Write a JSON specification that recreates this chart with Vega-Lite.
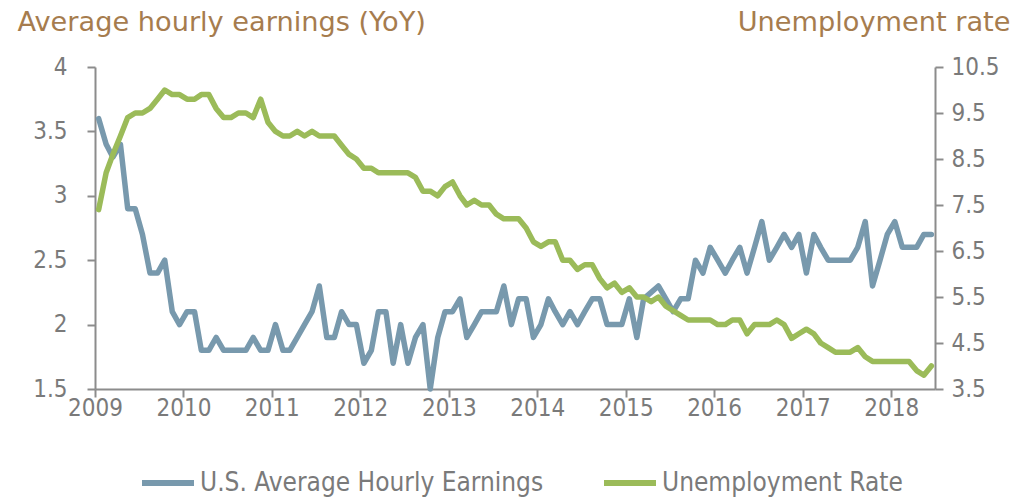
{
  "$schema": "https://vega.github.io/schema/vega-lite/v6.json",
  "width": 840,
  "height": 322,
  "autosize": {"type": "none"},
  "padding": {"left": 95, "top": 67, "right": 92, "bottom": 111},
  "background": "white",
  "config": {"view": {"stroke": null}},
  "data": {"values": [
    {"d":"2009-01-16","ahe":3.6,"ur":7.4},{"d":"2009-02-16","ahe":3.4,"ur":8.2},{"d":"2009-03-16","ahe":3.3,"ur":8.6},{"d":"2009-04-16","ahe":3.4,"ur":9.0},{"d":"2009-05-16","ahe":2.9,"ur":9.4},{"d":"2009-06-16","ahe":2.9,"ur":9.5},{"d":"2009-07-16","ahe":2.7,"ur":9.5},{"d":"2009-08-16","ahe":2.4,"ur":9.6},{"d":"2009-09-16","ahe":2.4,"ur":9.8},{"d":"2009-10-16","ahe":2.5,"ur":10.0},{"d":"2009-11-16","ahe":2.1,"ur":9.9},{"d":"2009-12-16","ahe":2.0,"ur":9.9},
    {"d":"2010-01-16","ahe":2.1,"ur":9.8},{"d":"2010-02-16","ahe":2.1,"ur":9.8},{"d":"2010-03-16","ahe":1.8,"ur":9.9},{"d":"2010-04-16","ahe":1.8,"ur":9.9},{"d":"2010-05-16","ahe":1.9,"ur":9.6},{"d":"2010-06-16","ahe":1.8,"ur":9.4},{"d":"2010-07-16","ahe":1.8,"ur":9.4},{"d":"2010-08-16","ahe":1.8,"ur":9.5},{"d":"2010-09-16","ahe":1.8,"ur":9.5},{"d":"2010-10-16","ahe":1.9,"ur":9.4},{"d":"2010-11-16","ahe":1.8,"ur":9.8},{"d":"2010-12-16","ahe":1.8,"ur":9.3},
    {"d":"2011-01-16","ahe":2.0,"ur":9.1},{"d":"2011-02-16","ahe":1.8,"ur":9.0},{"d":"2011-03-16","ahe":1.8,"ur":9.0},{"d":"2011-04-16","ahe":1.9,"ur":9.1},{"d":"2011-05-16","ahe":2.0,"ur":9.0},{"d":"2011-06-16","ahe":2.1,"ur":9.1},{"d":"2011-07-16","ahe":2.3,"ur":9.0},{"d":"2011-08-16","ahe":1.9,"ur":9.0},{"d":"2011-09-16","ahe":1.9,"ur":9.0},{"d":"2011-10-16","ahe":2.1,"ur":8.8},{"d":"2011-11-16","ahe":2.0,"ur":8.6},{"d":"2011-12-16","ahe":2.0,"ur":8.5},
    {"d":"2012-01-16","ahe":1.7,"ur":8.3},{"d":"2012-02-16","ahe":1.8,"ur":8.3},{"d":"2012-03-16","ahe":2.1,"ur":8.2},{"d":"2012-04-16","ahe":2.1,"ur":8.2},{"d":"2012-05-16","ahe":1.7,"ur":8.2},{"d":"2012-06-16","ahe":2.0,"ur":8.2},{"d":"2012-07-16","ahe":1.7,"ur":8.2},{"d":"2012-08-16","ahe":1.9,"ur":8.1},{"d":"2012-09-16","ahe":2.0,"ur":7.8},{"d":"2012-10-16","ahe":1.5,"ur":7.8},{"d":"2012-11-16","ahe":1.9,"ur":7.7},{"d":"2012-12-16","ahe":2.1,"ur":7.9},
    {"d":"2013-01-16","ahe":2.1,"ur":8.0},{"d":"2013-02-16","ahe":2.2,"ur":7.7},{"d":"2013-03-16","ahe":1.9,"ur":7.5},{"d":"2013-04-16","ahe":2.0,"ur":7.6},{"d":"2013-05-16","ahe":2.1,"ur":7.5},{"d":"2013-06-16","ahe":2.1,"ur":7.5},{"d":"2013-07-16","ahe":2.1,"ur":7.3},{"d":"2013-08-16","ahe":2.3,"ur":7.2},{"d":"2013-09-16","ahe":2.0,"ur":7.2},{"d":"2013-10-16","ahe":2.2,"ur":7.2},{"d":"2013-11-16","ahe":2.2,"ur":7.0},{"d":"2013-12-16","ahe":1.9,"ur":6.7},
    {"d":"2014-01-16","ahe":2.0,"ur":6.6},{"d":"2014-02-16","ahe":2.2,"ur":6.7},{"d":"2014-03-16","ahe":2.1,"ur":6.7},{"d":"2014-04-16","ahe":2.0,"ur":6.3},{"d":"2014-05-16","ahe":2.1,"ur":6.3},{"d":"2014-06-16","ahe":2.0,"ur":6.1},{"d":"2014-07-16","ahe":2.1,"ur":6.2},{"d":"2014-08-16","ahe":2.2,"ur":6.2},{"d":"2014-09-16","ahe":2.2,"ur":5.9},{"d":"2014-10-16","ahe":2.0,"ur":5.7},{"d":"2014-11-16","ahe":2.0,"ur":5.8},{"d":"2014-12-16","ahe":2.0,"ur":5.6},
    {"d":"2015-01-16","ahe":2.2,"ur":5.7},{"d":"2015-02-16","ahe":1.9,"ur":5.5},{"d":"2015-03-16","ahe":2.2,"ur":5.5},{"d":"2015-04-16","ahe":2.25,"ur":5.4},{"d":"2015-05-16","ahe":2.3,"ur":5.5},{"d":"2015-06-16","ahe":2.2,"ur":5.3},{"d":"2015-07-16","ahe":2.1,"ur":5.2},{"d":"2015-08-16","ahe":2.2,"ur":5.1},{"d":"2015-09-16","ahe":2.2,"ur":5.0},{"d":"2015-10-16","ahe":2.5,"ur":5.0},{"d":"2015-11-16","ahe":2.4,"ur":5.0},{"d":"2015-12-16","ahe":2.6,"ur":5.0},
    {"d":"2016-01-16","ahe":2.5,"ur":4.9},{"d":"2016-02-16","ahe":2.4,"ur":4.9},{"d":"2016-03-16","ahe":2.5,"ur":5.0},{"d":"2016-04-16","ahe":2.6,"ur":5.0},{"d":"2016-05-16","ahe":2.4,"ur":4.7},{"d":"2016-06-16","ahe":2.6,"ur":4.9},{"d":"2016-07-16","ahe":2.8,"ur":4.9},{"d":"2016-08-16","ahe":2.5,"ur":4.9},{"d":"2016-09-16","ahe":2.6,"ur":5.0},{"d":"2016-10-16","ahe":2.7,"ur":4.9},{"d":"2016-11-16","ahe":2.6,"ur":4.6},{"d":"2016-12-16","ahe":2.7,"ur":4.7},
    {"d":"2017-01-16","ahe":2.4,"ur":4.8},{"d":"2017-02-16","ahe":2.7,"ur":4.7},{"d":"2017-03-16","ahe":2.6,"ur":4.5},{"d":"2017-04-16","ahe":2.5,"ur":4.4},{"d":"2017-05-16","ahe":2.5,"ur":4.3},{"d":"2017-06-16","ahe":2.5,"ur":4.3},{"d":"2017-07-16","ahe":2.5,"ur":4.3},{"d":"2017-08-16","ahe":2.6,"ur":4.4},{"d":"2017-09-16","ahe":2.8,"ur":4.2},{"d":"2017-10-16","ahe":2.3,"ur":4.1},{"d":"2017-11-16","ahe":2.5,"ur":4.1},{"d":"2017-12-16","ahe":2.7,"ur":4.1},
    {"d":"2018-01-16","ahe":2.8,"ur":4.1},{"d":"2018-02-16","ahe":2.6,"ur":4.1},{"d":"2018-03-16","ahe":2.6,"ur":4.1},{"d":"2018-04-16","ahe":2.6,"ur":3.9},{"d":"2018-05-16","ahe":2.7,"ur":3.8},{"d":"2018-06-16","ahe":2.7,"ur":4.0}
  ]},
  "encoding": {
    "x": {
      "field": "d", "type": "temporal",
      "scale": {"type": "utc", "domain": [{"year": 2009, "month": 1, "date": 1, "utc": true}, {"year": 2018, "month": 7, "date": 1, "utc": true}]},
      "axis": {
        "title": null, "format": "%Y", "formatType": "utc",
        "tickCount": {"interval": "year", "step": 1},
        "grid": false, "domainColor": "#8c8c8c", "domainWidth": 2, "tickColor": "#8c8c8c", "tickWidth": 2, "tickSize": 8,
        "labelFont": "DejaVu Sans Condensed, DejaVu Sans, sans-serif", "labelFontSize": 24, "labelColor": "#7a7a7a", "labelPadding": -1, "labelFlush": false, "labelOverlap": false
      }
    }
  },
  "layer": [
    {
      "mark": {"type": "line", "strokeWidth": 5.5, "strokeJoin": "round", "strokeCap": "round", "clip": false},
      "encoding": {
        "y": {"field": "ahe", "type": "quantitative", "scale": {"domain": [1.5, 4], "nice": false, "zero": false},
          "axis": {"orient": "left", "values": [1.5, 2, 2.5, 3, 3.5, 4], "format": ".2~r", "grid": false,
            "domainColor": "#8c8c8c", "domainWidth": 2, "tickColor": "#8c8c8c", "tickWidth": 2, "tickSize": 8,
            "labelFont": "DejaVu Sans Condensed, DejaVu Sans, sans-serif", "labelFontSize": 24, "labelColor": "#7a7a7a", "labelPadding": 20,
            "title": "Average hourly earnings (YoY)", "titleAngle": 0, "titleAlign": "left", "titleBaseline": "alphabetic",
            "titleX": -78, "titleY": -37, "titleFont": "DejaVu Sans", "titleFontSize": 27.2, "titleFontWeight": "normal", "titleColor": "#a67c4e"}},
        "color": {"datum": "U.S. Average Hourly Earnings", "type": "nominal",
          "scale": {"domain": ["U.S. Average Hourly Earnings", "Unemployment Rate"], "range": ["#7899ad", "#9bbb59"]},
          "legend": {"orient": "none", "legendX": 44, "legendY": 387, "direction": "horizontal", "title": null,
            "symbolType": "stroke", "symbolStrokeWidth": 6, "symbolSize": 2704, "labelFont": "DejaVu Sans Condensed, DejaVu Sans, sans-serif",
            "labelFontSize": 26, "labelColor": "#7a7a7a", "labelOffset": 3, "columnPadding": 48, "labelLimit": 500}}
      }
    },
    {
      "mark": {"type": "line", "strokeWidth": 5.5, "strokeJoin": "round", "strokeCap": "round", "clip": false},
      "encoding": {
        "y": {"field": "ur", "type": "quantitative", "scale": {"domain": [3.5, 10.5], "nice": false, "zero": false},
          "axis": {"orient": "right", "values": [3.5, 4.5, 5.5, 6.5, 7.5, 8.5, 9.5, 10.5], "format": ".1f", "grid": false,
            "domainColor": "#8c8c8c", "domainWidth": 2, "tickColor": "#8c8c8c", "tickWidth": 2, "tickSize": 8,
            "labelFont": "DejaVu Sans Condensed, DejaVu Sans, sans-serif", "labelFontSize": 24, "labelColor": "#7a7a7a", "labelPadding": 8,
            "title": "Unemployment rate", "titleAngle": 0, "titleAlign": "right", "titleBaseline": "alphabetic",
            "titleX": 75, "titleY": -37, "titleFont": "DejaVu Sans", "titleFontSize": 27.2, "titleFontWeight": "normal", "titleColor": "#a67c4e"}},
        "color": {"datum": "Unemployment Rate", "type": "nominal"}
      }
    }
  ],
  "resolve": {"scale": {"y": "independent"}}
}
